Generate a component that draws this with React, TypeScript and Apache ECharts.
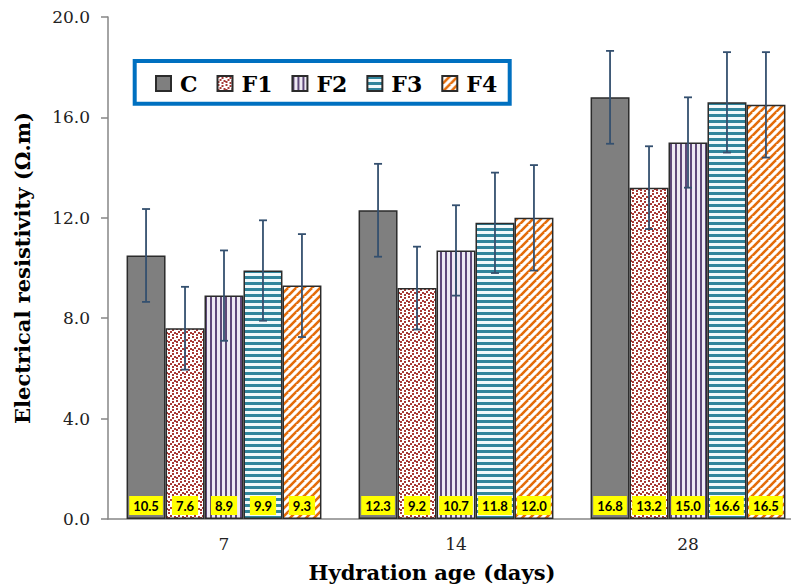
import React, { useEffect, useRef } from "react";
import * as echarts from "echarts";

// Hydration age groups (days)
const categories = ["7", "14", "28"];

// Mean electrical resistivity (Ω.m) per mix
const seriesNames = ["C", "F1", "F2", "F3", "F4"];
const valuesC = [10.5, 12.3, 16.8];
const valuesF1 = [7.6, 9.2, 13.2];
const valuesF2 = [8.9, 10.7, 15.0];
const valuesF3 = [9.9, 11.8, 16.6];
const valuesF4 = [9.3, 12.0, 16.5];

// Standard deviation (Ω.m) per mix
const errC = [1.85, 1.85, 1.85];
const errF1 = [1.65, 1.65, 1.65];
const errF2 = [1.8, 1.8, 1.8];
const errF3 = [2.0, 2.0, 2.0];
const errF4 = [2.05, 2.1, 2.1];

// Y-axis range
const yMin = 0;
const yMax = 20;
const yStep = 4;

const allValues = [valuesC, valuesF1, valuesF2, valuesF3, valuesF4];
const allErrors = [errC, errF1, errF2, errF3, errF4];

const BAR_CATEGORY_GAP = 0.16;
const SERIF = "'DejaVu Serif', 'Liberation Serif', serif";

function makeTile(w: number, h: number, draw: (ctx: CanvasRenderingContext2D) => void) {
  const c = document.createElement("canvas");
  c.width = w;
  c.height = h;
  const ctx = c.getContext("2d")!;
  draw(ctx);
  return { image: c, repeat: "repeat", imageWidth: w, imageHeight: h } as any;
}

function buildPatterns() {
  // F1: small red confetti on white
  const confetti = makeTile(8, 8, (ctx) => {
    ctx.fillStyle = "#ffffff";
    ctx.fillRect(0, 0, 8, 8);
    ctx.fillStyle = "#a83a36";
    const dots = [
      [0, 0],
      [4, 1],
      [2, 3],
      [6, 4],
      [0, 5],
      [4, 6],
    ];
    dots.forEach(([x, y]) => ctx.fillRect(x, y, 2, 2));
  });
  // F2: vertical purple stripes
  const vertical = makeTile(5, 5, (ctx) => {
    ctx.fillStyle = "#eeeaf3";
    ctx.fillRect(0, 0, 5, 5);
    ctx.fillStyle = "#5f497a";
    ctx.fillRect(0, 0, 2, 5);
  });
  // F3: horizontal teal stripes
  const horizontal = makeTile(6, 6, (ctx) => {
    ctx.fillStyle = "#f2f9fb";
    ctx.fillRect(0, 0, 6, 6);
    ctx.fillStyle = "#31859c";
    ctx.fillRect(0, 0, 6, 3);
  });
  // F4: orange diagonal stripes
  const diagonal = makeTile(8, 8, (ctx) => {
    ctx.fillStyle = "#ffffff";
    ctx.fillRect(0, 0, 8, 8);
    ctx.strokeStyle = "#e46c0a";
    ctx.lineWidth = 2.6;
    for (let k = -8; k <= 16; k += 8) {
      ctx.beginPath();
      ctx.moveTo(k - 8, 16);
      ctx.lineTo(k + 8, 0);
      ctx.stroke();
    }
  });
  return ["#7f7f7f", confetti, vertical, horizontal, diagonal];
}

export default function App() {
  const ref = useRef<HTMLDivElement>(null);

  useEffect(() => {
    if (!ref.current) return;
    const chart = echarts.init(ref.current, undefined, { renderer: "svg" });
    const fills = buildPatterns();

    const barSeries = seriesNames.map((name, i) => ({
      name,
      type: "bar",
      data: allValues[i],
      barGap: "0%",
      barCategoryGap: `${BAR_CATEGORY_GAP * 100}%`,
      itemStyle: {
        color: fills[i],
        borderColor: "#2b2b2b",
        borderWidth: 1.5,
      },
      label: {
        show: true,
        position: "insideBottom",
        distance: 4,
        formatter: (p: any) => Number(p.value).toFixed(1),
        backgroundColor: "#ffff00",
        padding: [3, 4, 2, 4],
        color: "#000000",
        fontFamily: "Lato, 'Open Sans', sans-serif",
        fontWeight: "bold",
        fontSize: 13,
        lineHeight: 14,
      },
      z: 2,
    }));

    const errorData: number[][] = [];
    allValues.forEach((vals, si) => {
      vals.forEach((v, ci) => {
        errorData.push([ci, si, v, allErrors[si][ci]]);
      });
    });

    const errorSeries = {
      type: "custom",
      z: 10,
      silent: true,
      encode: { x: 0, y: 2 },
      data: errorData,
      renderItem: (params: any, api: any) => {
        const ci = api.value(0);
        const si = api.value(1);
        const v = api.value(2);
        const e = api.value(3);
        const band = api.size([1, 0])[0];
        const bw = (band * (1 - BAR_CATEGORY_GAP)) / seriesNames.length;
        const cx = api.coord([ci, v])[0] + (si - (seriesNames.length - 1) / 2) * bw;
        const yTop = api.coord([ci, v + e])[1];
        const yBot = api.coord([ci, v - e])[1];
        const cap = 4;
        const style = { stroke: "#34506f", lineWidth: 1.8 };
        return {
          type: "group",
          children: [
            { type: "line", shape: { x1: cx, y1: yTop, x2: cx, y2: yBot }, style },
            { type: "line", shape: { x1: cx - cap, y1: yTop, x2: cx + cap, y2: yTop }, style },
            { type: "line", shape: { x1: cx - cap, y1: yBot, x2: cx + cap, y2: yBot }, style },
          ],
        };
      },
    };

    chart.setOption({
      animation: false,
      backgroundColor: "#ffffff",
      grid: {
        left: 108,
        top: 17,
        width: 696,
        height: 502,
        containLabel: false,
        outerBoundsMode: "none",
      },
      legend: {
        data: seriesNames,
        left: 155,
        top: 71,
        padding: 0,
        itemGap: 19,
        itemWidth: 15,
        itemHeight: 15,
        icon: "rect",
        textStyle: {
          fontFamily: SERIF,
          fontWeight: "bold",
          fontSize: 22,
          lineHeight: 25,
          color: "#000000",
          padding: [0, 0, 0, 4],
        },
      },
      xAxis: {
        type: "category",
        data: categories,
        axisLine: { lineStyle: { color: "#868686", width: 1.5 } },
        axisTick: { alignWithLabel: true, length: 5, lineStyle: { color: "#868686", width: 1.5 } },
        axisLabel: { fontFamily: SERIF, fontSize: 17, color: "#222222", margin: 16 },
      },
      yAxis: {
        type: "value",
        min: yMin,
        max: yMax,
        interval: yStep,
        splitLine: { show: false },
        axisLine: { show: true, lineStyle: { color: "#868686", width: 1.5 } },
        axisTick: { show: true, length: 7, lineStyle: { color: "#868686", width: 1.5 } },
        axisLabel: {
          fontFamily: SERIF,
          fontSize: 17,
          color: "#222222",
          margin: 18,
          formatter: (v: number) => v.toFixed(1),
        },
      },
      graphic: [
        {
          type: "rect",
          shape: { x: 134.7, y: 61, width: 375, height: 42.7 },
          style: { fill: "none", stroke: "#0070c0", lineWidth: 4 },
          z: 100,
        },
        {
          type: "text",
          x: 22,
          y: 268,
          rotation: Math.PI / 2,
          style: {
            text: "Electrical resistivity (Ω.m)",
            fontFamily: SERIF,
            fontWeight: "bold",
            fontSize: 21,
            fill: "#000000",
            textAlign: "center",
            textVerticalAlign: "middle",
          },
        },
        {
          type: "text",
          x: 432,
          y: 572,
          style: {
            text: "Hydration age (days)",
            fontFamily: SERIF,
            fontWeight: "bold",
            fontSize: 21,
            fill: "#000000",
            textAlign: "center",
            textVerticalAlign: "middle",
          },
        },
      ],
      series: [...barSeries, errorSeries],
    });

    return () => chart.dispose();
  }, []);

  return (
    <div
      ref={ref}
      style={{ position: "absolute", left: 0, top: 0, width: 791, height: 585, background: "#ffffff" }}
    />
  );
}
